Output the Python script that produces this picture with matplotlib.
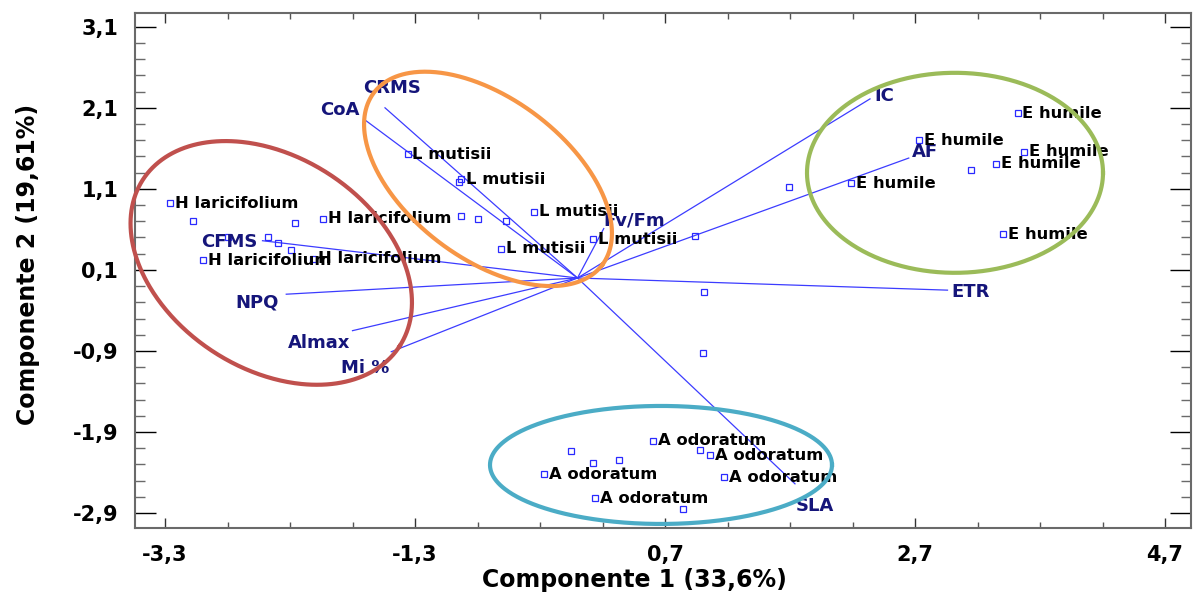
import numpy as np
import matplotlib
matplotlib.use("Agg")
import matplotlib.pyplot as plt
from matplotlib.ticker import FixedLocator

# ---------------- data ----------------
# Scores (PC1, PC2) and label shown next to each point ("" = no label)
pc1 = [-3.26, -3.08, -2.26, -2.04, -2.80, -2.48, -2.40, -2.29, -3.00, -2.12,
       -1.36, -0.93, -0.95, -0.93, -0.80, -0.57, -0.35, -0.61, 0.12,
       0.94, 1.01, 1.00,
       3.52, 2.73, 3.57, 3.35, 3.15, 2.19, 3.40, 1.69,
       0.60, -0.05, 0.98, 1.06, 0.12, 0.33, -0.27, 1.17, 0.14, 0.84]
pc2 = [0.92, 0.70, 0.68, 0.73, 0.51, 0.50, 0.43, 0.35, 0.22, 0.24,
       1.53, 1.22, 1.19, 0.77, 0.73, 0.70, 0.82, 0.36, 0.48,
       0.52, -0.17, -0.93,
       2.03, 1.70, 1.56, 1.41, 1.33, 1.17, 0.54, 1.12,
       -2.01, -2.14, -2.12, -2.19, -2.28, -2.25, -2.42, -2.46, -2.72, -2.85]
point_labels = ["H laricifolium", "", "", "H laricifolium", "", "", "", "", "H laricifolium", "H laricifolium",
                "L mutisii", "L mutisii", "", "", "", "", "L mutisii", "L mutisii", "L mutisii",
                "", "", "",
                "E humile", "E humile", "E humile", "E humile", "", "E humile", "E humile", "",
                "A odoratum", "", "", "A odoratum", "", "", "A odoratum", "A odoratum", "A odoratum", ""]

# Loadings (vector end points)
var_names = ["CRMS", "CoA", "CFMS", "NPQ", "Almax", "Mi %", "ETR", "IC", "AF", "Fv/Fm", "SLA"]
var_x = [-1.54, -1.70, -2.52, -2.33, -1.80, -1.49, 2.96, 2.34, 2.65, 0.21, 1.74]
var_y = [2.10, 1.95, 0.46, -0.20, -0.65, -0.91, -0.15, 2.21, 1.48, 0.61, -2.54]

xlabel = "Componente 1 (33,6%)"
ylabel = "Componente 2 (19,61%)"
xticks = [-3.3, -1.3, 0.7, 2.7, 4.7]
yticks = [-2.9, -1.9, -0.9, 0.1, 1.1, 2.1, 3.1]

# ---------------- layout / style ----------------
var_label_offset = {"CRMS": (7, 20), "CoA": (-25, 10), "CFMS": (-33, -1), "NPQ": (-29, -8),
                    "Almax": (-33, -12), "Mi %": (-26, -16), "ETR": (23, -2), "IC": (14, 3),
                    "AF": (16, 6), "Fv/Fm": (30, 8), "SLA": (20, -22)}
ellipses = [((-2.45, 0.186), 153, 106, -33, "#C0504D"),
            ((-0.716, 1.223), 143, 80, -37, "#F79646"),
            ((3.02, 1.298), 148, 100, 0, "#9BBB59"),
            ((0.668, -2.307), 171, 59, 0, "#4BACC6")]

W, H, DPI = 1193, 607, 100
fig = plt.figure(figsize=(W / DPI, H / DPI), dpi=DPI)
ax = fig.add_axes([135 / W, 1 - 528 / H, (1191 - 135) / W, (528 - 13) / H])
ax.set_xlim(-3.54, 4.908)
ax.set_ylim(-3.085, 3.27)

line_col = "#3c3cff"
for name, vx, vy in zip(var_names, var_x, var_y):
    ax.plot([0, vx], [0, vy], color=line_col, lw=0.9, zorder=2)
    dx, dy = var_label_offset[name]
    ax.annotate(name, (vx, vy), xytext=(dx, dy), textcoords="offset pixels",
                ha="center", va="center", fontsize=13, fontweight="bold",
                color="#15157a", zorder=4)

ax.plot(pc1, pc2, linestyle="none", marker="s", markersize=4.5,
        markerfacecolor="none", markeredgecolor="#2a2aff", markeredgewidth=0.9, zorder=3)
for x, y, lab in zip(pc1, pc2, point_labels):
    if lab:
        ax.annotate(lab, (x, y), xytext=(5, 0), textcoords="offset pixels",
                    ha="left", va="center", fontsize=11.8, fontweight="bold",
                    color="black", zorder=5)

t = np.linspace(0, 2 * np.pi, 500)
for (cx, cy), a, b, ang, col in ellipses:
    th = np.deg2rad(ang)
    px = a * np.cos(t) * np.cos(th) - b * np.sin(t) * np.sin(th)
    py = a * np.cos(t) * np.sin(th) + b * np.sin(t) * np.cos(th)
    c0 = ax.transData.transform((cx, cy))
    pts = ax.transData.inverted().transform(np.column_stack([c0[0] + px, c0[1] + py]))
    ax.plot(pts[:, 0], pts[:, 1], color=col, lw=3.0, zorder=6, clip_on=False)

ax.xaxis.set_major_locator(FixedLocator(xticks))
ax.yaxis.set_major_locator(FixedLocator(yticks))
ax.xaxis.set_minor_locator(FixedLocator(np.arange(-3.3, 4.95, 0.5)))
ax.yaxis.set_minor_locator(FixedLocator(np.arange(-2.9, 3.25, 0.2)))
ax.set_xticklabels([f"{v:.1f}".replace(".", ",") for v in xticks])
ax.set_yticklabels([f"{v:.1f}".replace(".", ",") for v in yticks])
for s in ax.spines.values():
    s.set_color("#6a6a6a")
    s.set_linewidth(1.5)
ax.tick_params(axis="y", which="major", direction="in", length=15, width=1, color="black",
               left=True, right=True, pad=12)
ax.tick_params(axis="y", which="minor", direction="in", length=7.5, width=1, color="#6a6a6a",
               left=True, right=True)
ax.tick_params(axis="x", which="major", direction="in", length=7.5, width=1, color="#333333",
               bottom=True, top=True, pad=12)
ax.tick_params(axis="x", which="minor", direction="in", length=4.5, width=1, color="#555555",
               bottom=True, top=True)
for lab in ax.get_xticklabels() + ax.get_yticklabels():
    lab.set_fontsize(15)
    lab.set_fontweight("bold")

ax.set_xlabel(xlabel, fontsize=17, fontweight="bold")
ax.set_ylabel(ylabel, fontsize=17, fontweight="bold")
ax.xaxis.set_label_coords(0.4725, -0.078)
ax.yaxis.set_label_coords(-0.09, 0.511)

fig.savefig("out.png", dpi=DPI)
